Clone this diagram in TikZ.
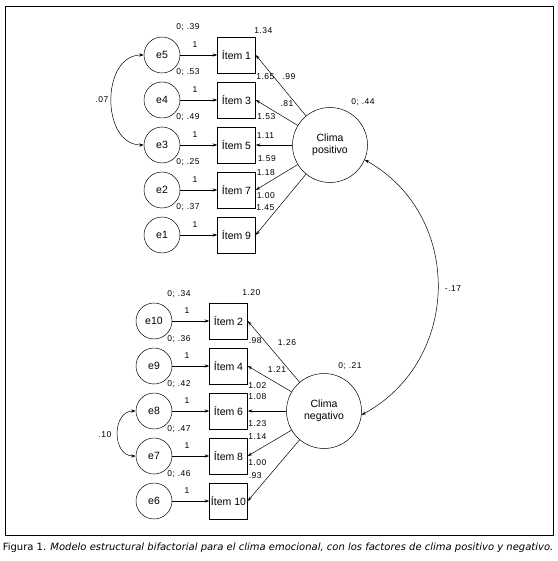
\documentclass[tikz,border=0pt]{standalone}
\usepackage{fontspec}
\setmainfont{Liberation Sans}
\newfontfamily\lblfont[LetterSpace=6]{Liberation Sans}
\newfontfamily\capfont{DejaVu Sans}
\usetikzlibrary{arrows.meta}

\begin{document}
\begin{tikzpicture}[x=1pt,y=-1pt,line width=0.5pt,
    errc/.style={draw, circle, minimum size=36pt, inner sep=0pt,
                 font=\fontsize{10.5}{12}\selectfont},
    itembox/.style={draw, minimum width=38pt, minimum height=36pt, inner sep=0pt,
                 font=\fontsize{10.5}{12}\selectfont},
    factor/.style={draw, circle, minimum size=75pt, inner sep=0pt, align=center,
                 font=\fontsize{10.5}{12.5}\selectfont},
    lbl/.style={inner sep=0pt, font=\lblfont\fontsize{8.5}{9}\selectfont},
    arr/.style={-{Stealth[length=4.5pt,width=3pt]}},
    cov/.style={{Stealth[length=4.5pt,width=3pt]}-{Stealth[length=4.5pt,width=3pt]}}]
  \useasboundingbox (0,0) rectangle (557,561);
  \draw[line width=1pt] (5,7) rectangle (553,535);

  % factores
  \node[factor] (cp) at (330,145) {Clima\\positivo};
  \node[factor] (cn) at (324,411) {Clima\\negativo};

  % clima positivo
  \foreach \n/\e/\v [count=\k from 0] in {1/5/.39, 3/4/.53, 5/3/.49, 7/2/.25, 9/1/.37} {
    \node[errc] (e\e) at (162,55+45*\k) {e\e};
    \node[itembox] (i\n) at (236.5,55+45*\k) {Ítem \n};
    \node[lbl] (w\e) at (195,45+45*\k) {1};
    \node[lbl] (v\e) at (188,27+45*\k) {0; \v};
    \draw[arr] (e\e) -- (i\n);
    \draw[arr] (cp) -- (i\n.east);
  }

  % clima negativo
  \foreach \n/\e/\v [count=\k from 0] in {2/10/.34, 4/9/.36, 6/8/.42, 8/7/.47, 10/6/.46} {
    \node[errc] (e\e) at (154,321+45*\k) {e\e};
    \node[itembox] (i\n) at (228.5,321+45*\k) {Ítem \n};
    \node[lbl] (w\e) at (187,311+45*\k) {1};
    \node[lbl] (v\e) at (179,294+45*\k) {0; \v};
    \draw[arr] (e\e) -- (i\n);
    \draw[arr] (cn) -- (i\n.east);
  }

  % estimaciones
  \foreach \val/\x/\y/\a [count=\k] in {1.34/254/31/west, 1.65/256/77/west, .99/289/77/center,
      .81/287/104/center, 1.53/257/117/west, 1.11/256.5/136/west, 1.59/257.5/159/west,
      1.18/256.5/173/west, 1.00/256.5/196/west, 1.45/256/208/west, 0; .44/363/102/center,
      1.20/242/293/west, .98/248.5/341/west, 1.26/287/343/center, 1.21/277/370/center,
      0; .21/350/366/center, 1.02/248/386/west, 1.08/248/397/west, 1.23/248/424/west,
      1.14/248/437/west, 1.00/248/463/west, .93/248.5/476/west}
    \node[lbl, anchor=\a] (est\k) at (\x,\y) {\val};

  % covarianzas
  \draw[cov] (e5.west) .. controls +(-43,0) and +(-43,0) .. (e3.west);
  \node[lbl] (c1) at (102,100) {.07};
  \draw[cov] (e8.west) .. controls +(-24,0) and +(-24,0) .. (e7.west);
  \node[lbl] (c2) at (105,435) {.10};
  \draw[cov] (cp.-23) .. controls (464,216) and (461,361) .. (cn.-6);
  \node[lbl] (c3) at (453,289) {-.17};

  \node[inner sep=0pt, font=\capfont\fontsize{10}{12}\selectfont] (cap) at (278,548)
    {Figura 1. \textit{Modelo estructural bifactorial para el clima emocional, con los factores de clima positivo y negativo.}};
\end{tikzpicture}
\end{document}
